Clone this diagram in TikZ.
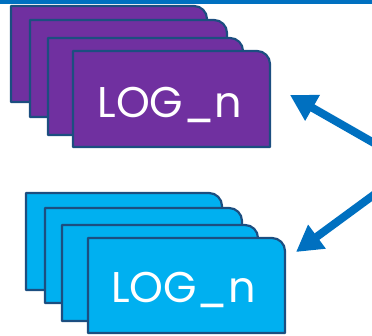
\documentclass[tikz,border=0pt]{standalone}
\usepackage{fontspec}
\setmainfont{Poppins}
\usetikzlibrary{arrows.meta}
\definecolor{barblue}{HTML}{0070C0}
\definecolor{edgeblue}{HTML}{1C4E80}
\definecolor{cardpurple}{HTML}{7030A0}
\definecolor{cardcyan}{HTML}{00B0F0}
\tikzset{
  cardedge/.style={draw=edgeblue, line width=2.2pt, line join=round},
  lbl/.style={text=white, font=\fontsize{43}{43}\selectfont, anchor=base, inner sep=0pt},
  bigarrow/.style={draw=barblue, line width=8pt, -{Triangle[width=28pt,length=26pt]}}
}
\newcommand{\logcard}[5]{% x0 y0 x1 y1 fill
  \path[cardedge, fill=#5] ({(#1+#3)/2},#2) [rounded corners=13pt] -- (#3,#2) -- (#3,{(#2+#4)/2}) [sharp corners] -- (#3,#4) -- (#1,#4) -- (#1,#2) -- cycle;
}
\begin{document}
\begin{tikzpicture}[x=1pt,y=-1pt]
\useasboundingbox (0,0) rectangle (372,335);
\fill[barblue] (0,0) rectangle (372,4);
% top group
\logcard{11}{6}{207}{102}{cardpurple}
\logcard{30}{20}{227}{117}{cardpurple}
\logcard{48}{38}{243}{135}{cardpurple}
\logcard{73}{51}{270}{147}{cardpurple}
\node[lbl] (toplog) at (170,117) {LOG\_n};
% bottom group
\logcard{26}{193}{222}{290}{cardcyan}
\logcard{45}{208}{242}{303}{cardcyan}
\logcard{62}{225}{258}{321}{cardcyan}
\logcard{88}{238}{285}{333}{cardcyan}
\node[lbl] (botlog) at (183.5,302) {LOG\_n};
% arrows
\coordinate (a1s) at (374,143);
\coordinate (a1e) at (290,95);
\coordinate (a2s) at (375,194);
\coordinate (a2e) at (296,252);
\draw[bigarrow] (a1s) -- (a1e);
\draw[bigarrow] (a2s) -- (a2e);
\end{tikzpicture}
\end{document}
